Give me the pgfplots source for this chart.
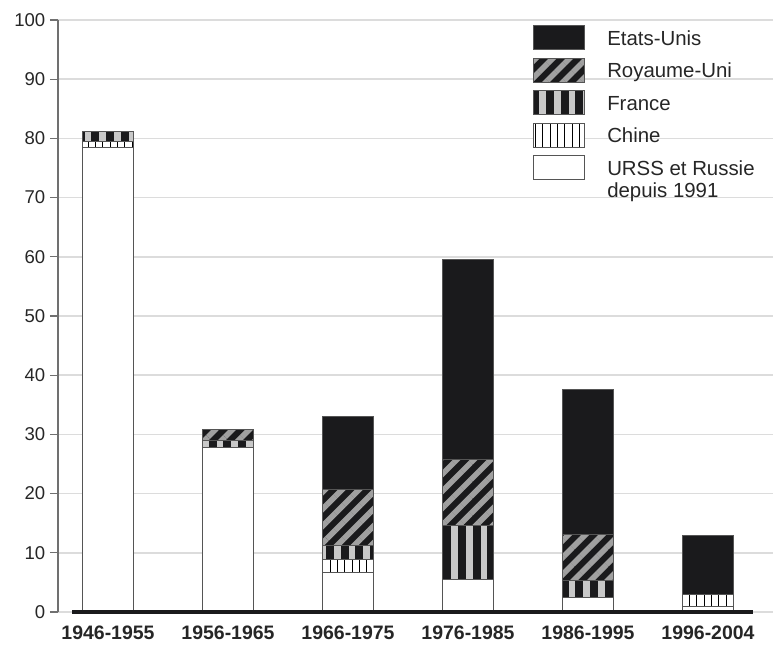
\documentclass[border=0pt]{standalone}
\usepackage{fontspec}
\setmainfont{Liberation Sans}
\usepackage{pgfplots}
\pgfplotsset{compat=1.18}
\usetikzlibrary{patterns.meta}

\definecolor{barblack}{HTML}{1A1A1C}
\definecolor{edgegray}{HTML}{555555}
\definecolor{axisgray}{HTML}{707070}
\definecolor{gridgray}{HTML}{DCDCDC}
\definecolor{ukgray}{HTML}{A0A0A0}
\definecolor{frgray}{HTML}{C8C8C8}

\tikzset{
  us/.style={fill=barblack, draw=edgegray, line width=0.75pt},
  uk/.style={fill=barblack, draw=edgegray, line width=0.75pt,
    postaction={pattern={Lines[angle=45,distance=9pt,line width=4.2pt]}, pattern color=ukgray}},
  fr/.style={fill=barblack, draw=edgegray, line width=0.75pt,
    postaction={pattern={Lines[angle=90,distance=11pt,line width=5.2pt]}, pattern color=frgray}},
  cn/.style={fill=white, draw=edgegray, line width=0.75pt,
    postaction={pattern={Lines[angle=90,distance=5.5pt,line width=0.6pt]}, pattern color=black}},
  ru/.style={fill=white, draw=edgegray, line width=0.75pt},
}

\begin{document}
\begin{tikzpicture}
\begin{axis}[
  scale only axis, width=536.25pt, height=444pt,
  xmin=-0.4167, xmax=5.5417, ymin=0, ymax=100,
  ybar stacked, bar width=0.425,
  axis y line*=left, axis x line*=bottom,
  x axis line style={draw=none},
  y axis line style={draw=axisgray, line width=1pt},
  xtick={0,...,5},
  xticklabels={1946-1955,1956-1965,1966-1975,1976-1985,1986-1995,1996-2004},
  xtick style={draw=none},
  ytick={0,10,...,100},
  ytick style={draw=axisgray, line width=1pt},
  tick align=outside, major tick length=6pt,
  ymajorgrids, grid style={draw=gridgray, line width=1.1pt},
  /pgf/number format/assume math mode=true,
  yticklabel style={font=\fontsize{13.9}{16}\selectfont, text=black!85},
  xticklabel style={font=\bfseries\fontsize{14.6}{17}\selectfont, text=black!85, yshift=-1pt},
  reverse legend, legend cell align=left,
  legend style={at={(axis description cs:0.6643,0.9916)}, anchor=north west,
    draw=none, fill=none, inner sep=0pt, row sep=5.65pt, column sep=16.5pt,
    font=\fontsize{15.3}{17}\selectfont, text=black!85,
    nodes={inner sep=0pt}},
  every axis plot post/.append style={
    legend image code/.code={\draw[##1] (0pt,-8.1pt) rectangle (38.25pt,9.9pt);}},
]
\addplot[ru] coordinates {(0,78.4) (1,27.8) (2,6.7) (3,5.5) (4,2.4) (5,0.9)};
\addlegendentry{\makebox[0pt][l]{\raisebox{-16.5pt}[0pt][0pt]{depuis 1991}}URSS et Russie}
\addplot[cn] coordinates {(0,1.0) (1,0) (2,2.2) (3,0) (4,0) (5,2.1)};
\addlegendentry{Chine}
\addplot[fr] coordinates {(0,1.8) (1,1.2) (2,2.3) (3,9.1) (4,3.0) (5,0)};
\addlegendentry{France}
\addplot[uk] coordinates {(0,0) (1,1.8) (2,9.5) (3,11.1) (4,7.7) (5,0)};
\addlegendentry{Royaume-Uni}
\addplot[us] coordinates {(0,0) (1,0) (2,12.3) (3,33.9) (4,24.4) (5,10.0)};
\addlegendentry{Etats-Unis}
\end{axis}
% thick base line, drawn over the bar bottoms (axis box starts at the origin)
\draw[line width=3pt, barblack] (10.5pt,0) -- (521.25pt,0);
\pgfresetboundingbox
\path (-43.5pt,-24.75pt) rectangle (536.25pt,459pt);
\end{tikzpicture}
\end{document}
